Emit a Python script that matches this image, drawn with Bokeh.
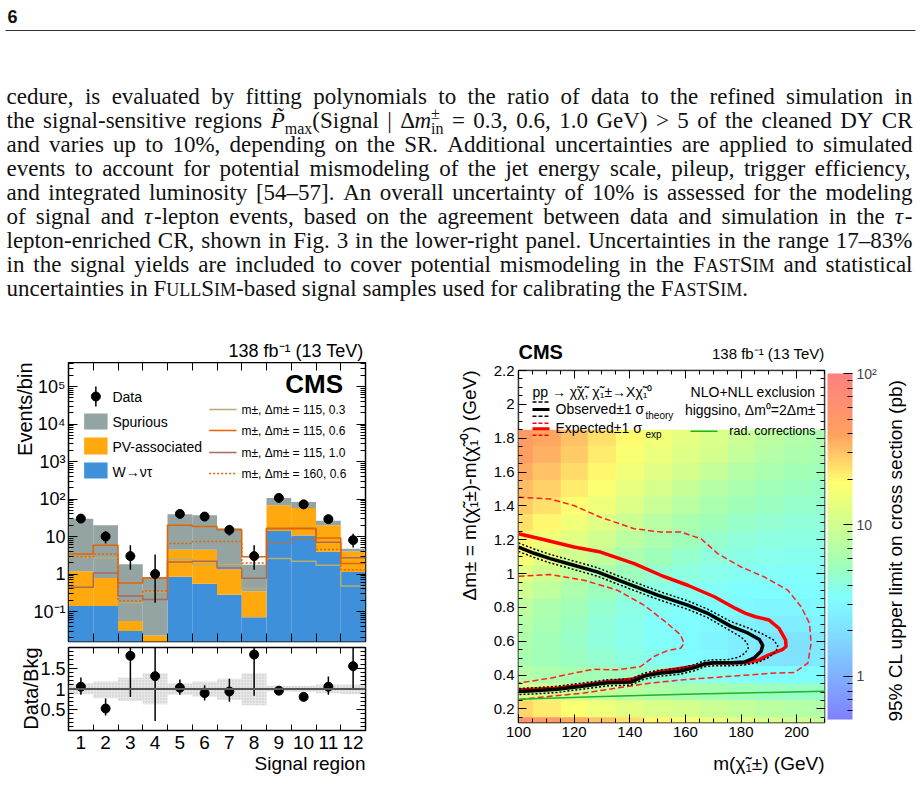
import re
import math
import numpy as np
from bokeh.plotting import figure
from bokeh.models import (Range1d, LinearAxis, LogAxis, FixedTicker, SingleIntervalTicker,
                          CustomJSTickFormatter, Label, Span, BoxAnnotation, ColorBar,
                          LogColorMapper, ColumnDataSource)
from bokeh.layouts import column, row
from bokeh.embed import file_html
from bokeh.resources import INLINE
from bokeh.core.properties import value

SANS = "Liberation Sans"
SERIF = "Liberation Serif"

# ---------------- page text ----------------
page_number = "6"
paragraph_lines = [
    "cedure, is evaluated by fitting polynomials to the ratio of data to the refined simulation in",
    "the signal-sensitive regions {i:P\u0303}{sub:max}(Signal | \u0394{i:m}{supz:\u00b1}{sub:in} = 0.3, 0.6, 1.0 GeV) > 5 of the cleaned DY CR",
    "and varies up to 10%, depending on the SR. Additional uncertainties are applied to simulated",
    "events to account for potential mismodeling of the jet energy scale, pileup, trigger efficiency,",
    "and integrated luminosity [54\u201357]. An overall uncertainty of 10% is assessed for the modeling",
    "of signal and {i:\u03c4}-lepton events, based on the agreement between data and simulation in the {i:\u03c4}-",
    "lepton-enriched CR, shown in Fig. 3 in the lower-right panel. Uncertainties in the range 17\u201383%",
    "in the signal yields are included to cover potential mismodeling in the F{sc:AST}S{sc:IM} and statistical",
    "uncertainties in F{sc:ULL}S{sc:IM}-based signal samples used for calibrating the F{sc:AST}S{sc:IM}.",
]
lumi_text = "138 fb\u207b\u00b9 (13 TeV)"
cms_text = "CMS"
colorbar_title = "95% CL upper limit on cross section (pb)"

# ---------------- left: yields per signal region ----------------
regions = [1, 2, 3, 4, 5, 6, 7, 8, 9, 10, 11, 12]
region_labels = [str(r) for r in regions]
bkg_wtau = [0.14, 0.14, 0.030, 0.004, 0.85, 0.55, 0.28, 0.070, 14.0, 10.7, 3.9, 1.13]
bkg_pv = [1.04, 0.64, 0.026, 0.019, 3.6, 3.9, 1.02, 0.275, 54.0, 46.8, 16.0, 2.87]
bkg_spurious = [28.6, 19.1, 1.75, 0.81, 34.5, 32.5, 15.2, 1.43, 38.0, 25.5, 6.5, 0.7]
sig_115_03 = [2.8, 2.67, 0.17, 0.33, 2.46, 1.8, 1.8, 0.41, 2.6, 2.2, 1.7, 0.48]
sig_115_06 = [3.4, 5.8, 0.575, 0.78, 19.9, 18.6, 15.1, 2.9, 16.5, 16.0, 9.1, 1.9]
sig_115_10 = [0.44, 1.06, 0.26, 0.21, 2.09, 2.2, 1.45, 0.77, 16.0, 16.5, 7.0, 2.7]
sig_160_06 = [2.9, 3.4, 0.19, 0.35, 6.5, 7.4, 7.4, 1.97, 6.7, 8.4, 4.5, 1.3]
data_obs = [30, 10, 3, 1, 40, 34, 15, 3, 107, 72, 29, 8]
data_err_lo = [24.5, 6.5, 1.3, 0.17, 34, 28, 10.7, 1.3, 97, 64, 23.4, 5.1]
data_err_hi = [35.5, 13.8, 5.8, 3.3, 46, 40, 19.9, 5.8, 117, 80, 36.6, 11.9]

ratio = [1.055, 0.53, 1.8, 1.31, 1.03, 0.90, 0.94, 1.83, 0.96, 0.81, 1.055, 1.55]
ratio_lo = [0.86, 0.36, 0.81, 0.23, 0.86, 0.72, 0.69, 0.84, 0.86, 0.71, 0.86, 1.0]
ratio_hi = [1.28, 0.77, 2.6, 2.6, 1.23, 1.09, 1.25, 2.6, 1.07, 0.90, 1.30, 2.4]
band_lo = [0.88, 0.78, 0.71, 0.63, 0.86, 0.82, 0.74, 0.61, 0.94, 0.93, 0.90, 0.88]
band_hi = [1.13, 1.18, 1.27, 1.38, 1.13, 1.18, 1.25, 1.38, 1.08, 1.08, 1.11, 1.11]

# ---------------- right: exclusion limits ----------------
heat_x = [100, 110, 120, 130, 140, 150, 160, 170, 180, 190, 200, 210]
heat_y = [0.1, 0.2, 0.3, 0.4, 0.5, 0.6, 0.7, 0.8, 0.9, 1.0, 1.1, 1.2, 1.3, 1.4, 1.5, 1.6, 1.7, 1.8]
heat_vals = [
    [60, 48, 38, 30, 24, 20, 17, 14.5, 12.5, 11, 10, 9.2],
    [26, 22, 18, 15, 13, 11.5, 10.5, 9.5, 8.5, 7.8, 7.2, 6.8],
    [11, 10, 9, 8.2, 7.5, 6.8, 6.2, 5.8, 5.4, 5.0, 4.8, 4.8],
    [7, 6.5, 6, 5.5, 5, 4.5, 4, 3.8, 3.5, 3.2, 3.2, 3.3],
    [6, 5.5, 5, 4.5, 4, 3.6, 3.2, 3, 2.6, 2.2, 2.1, 2.4],
    [6.5, 5.5, 4.8, 4.2, 3.8, 3.4, 3.1, 2.8, 2.5, 2.2, 2.1, 2.4],
    [7, 6, 5, 4.3, 3.8, 3.4, 3.2, 3, 2.7, 2.5, 2.5, 2.8],
    [8, 6.5, 5.5, 4.6, 4, 3.6, 3.4, 3.2, 3, 2.9, 2.9, 3.1],
    [10, 8, 6.5, 5.2, 4.5, 4, 3.7, 3.5, 3.3, 3.2, 3.2, 3.3],
    [13, 10, 8, 6.5, 5.2, 4.5, 4.1, 3.8, 3.6, 3.5, 3.4, 3.5],
    [17, 13, 10, 8, 6.3, 5.3, 4.6, 4.2, 3.9, 3.8, 3.7, 3.7],
    [20, 16, 13, 10, 7.8, 6.3, 5.3, 4.7, 4.3, 4.1, 4, 4],
    [24, 20, 16, 12.5, 9.5, 7.5, 6.2, 5.3, 4.8, 4.5, 4.3, 4.3],
    [28, 24, 19, 15, 12, 9.2, 7.4, 6.2, 5.4, 5, 4.7, 4.6],
    [32, 27, 22, 18, 14, 11, 8.8, 7.2, 6.2, 5.5, 5.1, 4.9],
    [36, 30, 25, 20, 16, 13, 10.5, 8.5, 7, 6.2, 5.6, 5.3],
    [42, 35, 28, 22, 18, 15, 12.5, 10.5, 8.5, 7.2, 6.4, 6.0],
    [46, 38, 31, 24, 19.5, 16, 13.5, 11.2, 9.2, 7.8, 6.8, 6.3],
]
obs_x = [100, 105.6, 111.4, 119.9, 128.3, 139.2, 150.0, 160.8, 168.0, 176.4, 182.4, 186.6, 187.8, 187.2,
         184.8, 181.2, 176.4, 170.4, 166.8, 163.2, 158.4, 150.0, 145.2, 140.4, 132.0, 123.6, 114.0, 105.6, 100]
obs_y = [1.156, 1.12, 1.088, 1.049, 1.010, 0.940, 0.873, 0.814, 0.765, 0.688, 0.649, 0.610, 0.576, 0.541,
         0.502, 0.477, 0.473, 0.473, 0.467, 0.444, 0.424, 0.410, 0.394, 0.359, 0.355, 0.336, 0.316, 0.307, 0.303]
obs_up_x = [100, 105.6, 111.4, 119.9, 128.3, 139.2, 150.0, 160.8, 168.0, 176.4, 182.4, 187.5, 191.5, 193.2, 192.6,
            190.0, 186.0, 181.2, 176.4, 170.4, 166.8, 163.2, 158.4, 150.0, 145.2, 140.4, 132.0, 123.6, 114.0, 105.6, 100]
obs_up_y = [1.181, 1.145, 1.113, 1.074, 1.035, 0.965, 0.898, 0.839, 0.790, 0.716, 0.680, 0.645, 0.610, 0.575, 0.540,
            0.505, 0.475, 0.460, 0.456, 0.456, 0.449, 0.426, 0.406, 0.392, 0.376, 0.341, 0.337, 0.318, 0.298, 0.289, 0.285]
obs_dn_x = [100, 105.6, 111.4, 119.9, 128.3, 139.2, 150.0, 160.8, 168.0, 176.4, 180.0, 182.2, 182.6, 181.5,
            179.0, 175.0, 170.4, 166.8, 163.2, 158.4, 150.0, 145.2, 140.4, 132.0, 123.6, 114.0, 105.6, 100]
obs_dn_y = [1.131, 1.095, 1.063, 1.024, 0.985, 0.915, 0.848, 0.789, 0.740, 0.660, 0.625, 0.590, 0.560, 0.530,
            0.505, 0.491, 0.491, 0.485, 0.462, 0.442, 0.428, 0.412, 0.377, 0.373, 0.354, 0.334, 0.325, 0.321]
exp_x = [100, 107.8, 119.9, 129.5, 141.6, 151.2, 160.8, 170.4, 178.0, 181.6, 185.2, 190.0, 193.6, 196.0, 196.2,
         194.8, 190.0, 186.4, 182.0, 176.4, 170.4, 163.2, 150.0, 140.4, 132.0, 123.6, 114.0, 100]
exp_y = [1.235, 1.206, 1.157, 1.127, 1.059, 0.990, 0.931, 0.863, 0.794, 0.765, 0.745, 0.726, 0.677, 0.608, 0.569,
         0.550, 0.520, 0.490, 0.474, 0.471, 0.473, 0.453, 0.418, 0.375, 0.361, 0.341, 0.322, 0.312]
exp_up_x = [100, 111.4, 119.9, 129.5, 141.6, 151.2, 158.4, 165.6, 171.6, 180.0, 188.4, 196.8, 201.6, 204.6, 205.2,
            204.0, 199.2, 189.6, 183.6, 171.6, 159.5, 147.5, 135.5, 123.5, 111.4, 100]
exp_up_y = [1.451, 1.441, 1.402, 1.333, 1.265, 1.245, 1.245, 1.206, 1.118, 1.039, 0.980, 0.902, 0.804, 0.706, 0.588,
            0.471, 0.416, 0.410, 0.402, 0.388, 0.373, 0.353, 0.324, 0.294, 0.275, 0.255]
exp_dn_x = [100, 111.4, 123.5, 135.5, 145.1, 153.5, 158.3, 159.5, 158.3, 153.5, 148.7, 143.9, 135.5, 127.1, 119.9, 111.4, 100]
exp_dn_y = [0.984, 0.994, 0.961, 0.902, 0.814, 0.706, 0.637, 0.588, 0.559, 0.545, 0.510, 0.451, 0.431, 0.435, 0.412, 0.382, 0.353]
rad_x = [100, 130, 160, 190, 210]
rad_y = [0.258, 0.274, 0.287, 0.298, 0.305]

# ---------------- colours ----------------
C_WTAU, C_PV, C_SPUR = "#3f90da", "#ffa90e", "#94a4a2"
C_TAN, C_ORANGE, C_BROWN = "#b9ac70", "#e76300", "#a96b59"

BLANK = CustomJSTickFormatter(code="return '';")
DEC = CustomJSTickFormatter(code="return String(Math.round(tick * 10) / 10);")
LOGFMT = CustomJSTickFormatter(code="""
const e = Math.round(Math.log10(tick));
const sup = {"-1": "\u207b\u00b9", "2": "\u00b2", "3": "\u00b3", "4": "\u2074", "5": "\u2075"};
if (e === 0) return "1";
if (e === 1) return "10";
return "10" + sup[String(e)];
""")


def mid(baseline, size, k=0.3465):
    """vertical centre of the text box for a given alphabetic baseline"""
    return baseline - k * size


def try_set(obj, name, *vals):
    if name in obj.properties():
        for v in vals:
            try:
                setattr(obj, name, v)
                return True
            except Exception:
                pass
    return False


def style_axis(ax, major_in, minor_in, size=None, standoff=4):
    ax.axis_line_color = None
    ax.major_tick_in = major_in
    ax.major_tick_out = 0
    ax.minor_tick_in = minor_in
    ax.minor_tick_out = 0
    ax.major_tick_line_color = "black"
    ax.minor_tick_line_color = "black"
    ax.major_label_standoff = standoff
    if size:
        ax.major_label_text_font_size = f"{size}px"
        ax.major_label_text_font = SANS
        ax.major_label_text_color = "black"


def axis_title(ax, text, size, standoff, align=None, orientation=None, text_align=None, baseline=None):
    ax.axis_label = text
    ax.axis_label_text_font = SANS
    ax.axis_label_text_font_size = f"{size}px"
    ax.axis_label_text_font_style = "normal"
    ax.axis_label_text_color = "black"
    ax.axis_label_standoff = standoff
    if align is not None:
        try_set(ax, "axis_label_align", align)
    if orientation is not None:
        try_set(ax, "axis_label_orientation", orientation)
    if text_align is not None:
        ax.axis_label_text_align = text_align
    if baseline is not None:
        ax.axis_label_text_baseline = baseline


def add_label(fig, x, y, text, size, align="left", baseline="middle", angle=0.0,
              style="normal", font=SANS, color="black"):
    fig.add_layout(Label(x=x, y=y, text=text, text_font=font, text_font_size=f"{size}px",
                         text_align=align, text_baseline=baseline, angle=angle,
                         text_font_style=style, text_color=color))


def blank_fig(width, height, x_range=None, y_range=None):
    f = figure(width=width, height=height, x_range=x_range if x_range is not None else Range1d(0, width),
               y_range=y_range if y_range is not None else Range1d(height, 0),
               toolbar_location=None, output_backend="svg", min_border=0,
               x_axis_location=None, y_axis_location=None, outline_line_color=None)
    f.xgrid.visible = False
    f.ygrid.visible = False
    return f


# ================= header with paragraph =================
TIMES_W = {}
for chars, w in [(" ,.", 250), ("ijlt:;/", 278), ("fr()[]-I", 333), ("sJ", 389), ("acez?", 444),
                 ("bdghknopquvxy0123456789\u2013", 500), ("FPS", 556), ("+=<>\u00b1", 564), ("ETLZ", 611),
                 ("\u0394", 612), ("BCR", 667), ("ADGHKNOQUVXYw", 722), ("m&", 778), ("%", 833),
                 ("M", 889), ("W", 944), ("|", 200), ("\u03c4", 439), ("\u0303", 0)]:
    for ch in chars:
        TIMES_W[ch] = w
TIMES_I = {"P": 611, "m": 722}
STY = {"n": (23, "normal", 0, True), "i": (23, "italic", 0, True), "sub": (16, "normal", 5, True),
       "supz": (16, "normal", -10, False), "sc": (18, "normal", 0, True)}
seg_re = re.compile(r"\{(\w+):([^}]*)\}")


def parse_word(w):
    segs, pos = [], 0
    for m in seg_re.finditer(w):
        if m.start() > pos:
            segs.append((w[pos:m.start()], "n"))
        segs.append((m.group(2), m.group(1)))
        pos = m.end()
    if pos < len(w):
        segs.append((w[pos:], "n"))
    return segs


def seg_width(s, st):
    size = STY[st][0]
    tot = 0
    for ch in s:
        wdt = TIMES_W.get(ch, 500)
        if st == "i":
            wdt = TIMES_I.get(ch, wdt)
        tot += wdt
    return tot / 1000.0 * size


X0, X1, BASE0, LEAD = 6, 912, 104, 24
tx, ty, tt, ts, tf = [], [], [], [], []
for li, line in enumerate(paragraph_lines):
    words = [parse_word(w) for w in line.split(" ")]
    wwid = [sum(seg_width(s, st) for s, st in segs if STY[st][3]) for segs in words]
    last = li == len(paragraph_lines) - 1
    gap = 0.25 * STY["n"][0] if last else max(3.0, (X1 - X0 - sum(wwid)) / (len(words) - 1))
    x = X0
    yb = BASE0 + LEAD * li
    for segs, ww in zip(words, wwid):
        cx = x
        for s, st in segs:
            size, fst, dy, adv = STY[st]
            tx.append(cx); ty.append(mid(yb + dy, size, 0.3375)); tt.append(s)
            ts.append(f"{size}px"); tf.append(fst)
            if adv:
                cx += seg_width(s, st)
        x += ww + gap

HDR_H = 330
hdr = blank_fig(920, HDR_H)
hdr.text(x=[7], y=[mid(22, 18)], text=[page_number], text_font=value(SANS), text_font_style="bold",
         text_font_size="18px", text_baseline="middle", text_color="#111111")
hdr.line(x=[5, 915], y=[30, 30], line_color="#333333", line_width=1)
src = ColumnDataSource(dict(x=tx, y=ty, text=tt, size=ts, fstyle=tf))
hdr.text(x="x", y="y", text="text", source=src, text_font=value(SERIF), text_font_size="size",
         text_font_style="fstyle", text_baseline="middle", text_align="left", text_color="#111111")

# ================= left main panel =================
edges = [r - 0.5 for r in regions] + [regions[-1] + 0.5]
inner_edges = edges[1:-1]
MAIN_TOP = 362
RIGHT_TOP = 370
RIGHT_STRIP = 32
LOG_TOP = 5.64
DEC_PX = 37.5


def mx(px):
    return 0.5 + (px - 61) / (304 / 12.0)


def my(py):
    return 10 ** (LOG_TOP - (py - MAIN_TOP) / DEC_PX)


x_left = Range1d(edges[0], edges[-1])

# strip above the left frame (frames of a column are aligned by bokeh)
left_hdr = blank_fig(440, MAIN_TOP - HDR_H, x_range=x_left)
left_hdr.text(x=[mx(363)], y=[mid(357, 18) - HDR_H], text=[lumi_text], text_font=value(SANS),
              text_font_size="18px", text_align="right", text_baseline="middle", text_color="black")

main_h = 641 - MAIN_TOP + 2
main = figure(width=440, height=main_h, x_range=x_left,
              y_range=Range1d(my(641), my(MAIN_TOP)),
              y_axis_type="log", toolbar_location=None, output_backend="svg",
              min_border_left=61, min_border_right=75, min_border_top=0, min_border_bottom=2,
              x_axis_location=None, outline_line_color="black", outline_line_width=1.5)
main.grid.visible = False
log_major = [10.0 ** k for k in range(-1, 6)]
log_minor = [m * 10.0 ** k for k in range(-2, 6) for m in range(2, 10)]
ya = main.yaxis[0]
ya.ticker = FixedTicker(ticks=log_major, minor_ticks=log_minor)
ya.formatter = LOGFMT
style_axis(ya, 9, 5, size=18, standoff=3)
axis_title(ya, "Events/bin", 20, 5, align="end", orientation=math.pi / 2, text_align="right", baseline="bottom")
ra = LogAxis(ticker=FixedTicker(ticks=log_major, minor_ticks=log_minor), formatter=BLANK)
style_axis(ra, 9, 5, standoff=0)
main.add_layout(ra, "right")
for loc in ("above", "below"):
    ax = LinearAxis(ticker=FixedTicker(ticks=[], minor_ticks=inner_edges))
    style_axis(ax, 0, 8, standoff=0)
    main.add_layout(ax, loc)

w = np.array(bkg_wtau)
pv = np.array(bkg_pv)
sp = np.array(bkg_spurious)
floor = 1e-3
main.quad(left=edges[:-1], right=edges[1:], bottom=floor, top=w, fill_color=C_WTAU, line_color=None)
main.quad(left=edges[:-1], right=edges[1:], bottom=w, top=w + pv, fill_color=C_PV, line_color=None)
main.quad(left=edges[:-1], right=edges[1:], bottom=w + pv, top=w + pv + sp, fill_color=C_SPUR, line_color=None)


def step_path(vals):
    return list(np.repeat(edges, 2)[1:-1]), list(np.repeat(vals, 2))


for vals, col, dash in [(sig_115_03, C_TAN, "solid"), (sig_115_10, C_BROWN, "solid"),
                        (sig_115_06, C_ORANGE, "solid"), (sig_160_06, C_ORANGE, "2 2")]:
    sx, sy = step_path(vals)
    main.line(sx, sy, line_color=col, line_width=1.5, line_dash=dash)

main.segment(x0=regions, x1=regions, y0=data_err_lo, y1=data_err_hi, line_color="black", line_width=1.5)
main.scatter(regions, data_obs, size=9, color="black")

# legend (left)
main.scatter([mx(89)], [my(396)], size=9, color="black")
main.segment(x0=[mx(89)], x1=[mx(89)], y0=[my(386)], y1=[my(406)], line_color="black", line_width=1.5)
add_label(main, mx(106), my(396), "Data", 14)
for top, bot, col, txt, yc in [(413, 429, C_SPUR, "Spurious", 421), (437, 454, C_PV, "PV-associated", 446),
                               (462, 478, C_WTAU, "W\u2192\u03bd\u03c4", 471)]:
    main.quad(left=[mx(77)], right=[mx(101)], top=[my(top)], bottom=[my(bot)], fill_color=col, line_color=None)
    add_label(main, mx(106), my(yc), txt, 14)
for yc, col, dash, txt in [(409, C_TAN, "solid", "m\u00b1, \u0394m\u00b1 = 115, 0.3"),
                           (430, C_ORANGE, "solid", "m\u00b1, \u0394m\u00b1 = 115, 0.6"),
                           (452, C_BROWN, "solid", "m\u00b1, \u0394m\u00b1 = 115, 1.0"),
                           (473, C_ORANGE, "2 2", "m\u00b1, \u0394m\u00b1 = 160, 0.6")]:
    main.line([mx(205), mx(233)], [my(yc), my(yc)], line_color=col, line_width=1.5, line_dash=dash)
    add_label(main, mx(238), my(yc), txt, 12)
add_label(main, mx(342), my(mid(393, 26)), cms_text, 26, align="right", baseline="middle", style="bold")

# ================= ratio panel =================
rat = figure(width=440, height=144, x_range=x_left, y_range=Range1d(0, 2),
             toolbar_location=None, output_backend="svg",
             min_border_left=61, min_border_right=75, min_border_top=4, min_border_bottom=53,
             x_axis_location=None, outline_line_color="black", outline_line_width=1.5)
rat.grid.visible = False
r_major = [0.5, 1.0, 1.5]
r_minor = [round(0.1 * k, 1) for k in range(1, 20)]
ry_ax = rat.yaxis[0]
ry_ax.ticker = FixedTicker(ticks=r_major, minor_ticks=r_minor)
ry_ax.formatter = DEC
style_axis(ry_ax, 9, 5, size=18, standoff=3)
axis_title(ry_ax, "Data/Bkg", 20, 6, align="end", orientation=math.pi / 2, text_align="right", baseline="bottom")
ry2 = LinearAxis(ticker=FixedTicker(ticks=r_major, minor_ticks=r_minor), formatter=BLANK)
style_axis(ry2, 9, 5, standoff=0)
rat.add_layout(ry2, "right")
top_ax = LinearAxis(ticker=FixedTicker(ticks=[], minor_ticks=inner_edges))
style_axis(top_ax, 0, 6, standoff=0)
rat.add_layout(top_ax, "above")
bot_ax = LinearAxis(ticker=FixedTicker(ticks=regions, minor_ticks=inner_edges),
                    major_label_overrides={r: l for r, l in zip(regions, region_labels)})
style_axis(bot_ax, 0, 6, size=19, standoff=5)
axis_title(bot_ax, "Signal region", 19, 12, align="end", orientation=0.0, text_align="right", baseline="top")
rat.add_layout(bot_ax, "below")

rat.quad(left=edges[:-1], right=edges[1:], bottom=band_lo, top=band_hi, fill_color="#d4d4d4",
         fill_alpha=0.55, line_color=None, hatch_pattern="dot", hatch_color="#9a9a9a",
         hatch_alpha=0.5, hatch_scale=3)
rat.add_layout(Span(location=1.0, dimension="width", line_color="#555555", line_width=2))
rat.segment(x0=regions, x1=regions, y0=ratio_lo, y1=ratio_hi, line_color="black", line_width=1.5)
rat.scatter(regions, ratio, size=9, color="black")

# ================= right panel =================
XR0, XR1, YR0, YR1 = 100, 210, 0.12, 2.2
RIGHT_W = 444          # 440 .. 884
CBT_W = 920 - 440 - RIGHT_W


def rx(px):
    return XR0 + (px - 518) * (XR1 - XR0) / 306.0


def rry(py):
    return YR1 - (py - RIGHT_TOP) * (YR1 - YR0) / 353.0


x_right = Range1d(XR0, XR1)
right_hdr = blank_fig(RIGHT_W, RIGHT_STRIP, x_range=x_right)
right_hdr.text(x=[rx(518)], y=[mid(358, 20) - HDR_H], text=[cms_text], text_font=value(SANS),
               text_font_size="20px", text_font_style="bold", text_align="left", text_baseline="middle",
               text_color="black")
right_hdr.text(x=[rx(824)], y=[mid(358, 15) - HDR_H], text=[lumi_text], text_font=value(SANS),
               text_font_size="15px", text_align="right", text_baseline="middle", text_color="black")

rp_top_border = RIGHT_TOP - HDR_H - RIGHT_STRIP
rp = figure(width=RIGHT_W, height=787 - HDR_H - RIGHT_STRIP, x_range=x_right, y_range=Range1d(YR0, YR1),
            toolbar_location=None, output_backend="svg",
            min_border_left=78, min_border_right=RIGHT_W - 78 - 306, min_border_top=rp_top_border,
            min_border_bottom=64,
            x_axis_location=None, y_axis_location=None, outline_line_color="black", outline_line_width=1.5)
rp.grid.visible = False

cb_t = [0.0, 0.124, 0.256, 0.351, 0.445, 0.562, 0.684, 0.825, 1.0]
cb_rgb = [(128, 128, 255), (128, 176, 255), (128, 224, 255), (128, 255, 255), (160, 255, 184),
          (208, 255, 144), (255, 255, 112), (255, 160, 96), (255, 128, 128)]
palette = []
for i in range(256):
    t = i / 255.0
    rgb = [int(round(np.interp(t, cb_t, [c[k] for c in cb_rgb]))) for k in range(3)]
    palette.append("#%02x%02x%02x" % tuple(rgb))
mapper = LogColorMapper(palette=palette, low=0.52, high=100)

dx = heat_x[1] - heat_x[0]
dy = heat_y[1] - heat_y[0]
rp.image(image=[np.array(heat_vals, dtype=float)], x=heat_x[0] - dx / 2, y=heat_y[0] - dy / 2,
         dw=dx * len(heat_x), dh=dy * len(heat_y), color_mapper=mapper)

rp.line(exp_up_x, exp_up_y, line_color="#ff2020", line_width=1.5, line_dash="6 3")
rp.line(exp_dn_x, exp_dn_y, line_color="#ff2020", line_width=1.5, line_dash="6 3")
rp.line(rad_x, rad_y, line_color="#1fb31f", line_width=1.5)
rp.line(exp_x, exp_y, line_color="#ff0000", line_width=3.5)
rp.line(obs_up_x, obs_up_y, line_color="black", line_width=1.5, line_dash="2 2")
rp.line(obs_dn_x, obs_dn_y, line_color="black", line_width=1.5, line_dash="2 2")
rp.line(obs_x, obs_y, line_color="black", line_width=3.5)

rp.add_layout(BoxAnnotation(left=XR0, right=XR1, bottom=rry(442), top=YR1, fill_color="white", fill_alpha=1,
                            line_color="black", line_width=2, level="underlay"))

xb = LinearAxis(ticker=SingleIntervalTicker(interval=20, num_minor_ticks=4))
style_axis(xb, 8, 4, size=15, standoff=4)
axis_title(xb, "m(\u03c7\u0303\u2081\u00b1) (GeV)", 19, 24, align="end", orientation=0.0, text_align="right", baseline="top")
rp.add_layout(xb, "below")
xt = LinearAxis(ticker=SingleIntervalTicker(interval=20, num_minor_ticks=4), formatter=BLANK)
style_axis(xt, 8, 4, standoff=0)
xt.major_label_text_font_size = "1px"
rp.add_layout(xt, "above")
yl = LinearAxis(ticker=SingleIntervalTicker(interval=0.2, num_minor_ticks=4), formatter=DEC)
style_axis(yl, 8, 4, size=15, standoff=4)
axis_title(yl, "\u0394m\u00b1 = m(\u03c7\u0303\u2081\u00b1)-m(\u03c7\u0303\u2081\u2070) (GeV)", 19, 21,
           align="end", orientation=math.pi / 2, text_align="right", baseline="bottom")
rp.add_layout(yl, "left")
yr = LinearAxis(ticker=SingleIntervalTicker(interval=0.2, num_minor_ticks=4), formatter=BLANK)
style_axis(yr, 8, 4, standoff=0)
rp.add_layout(yr, "right")

cb = ColorBar(color_mapper=mapper, width=25, padding=3, margin=0,
              ticker=FixedTicker(ticks=[1, 10, 100], minor_ticks=[0.6, 0.7, 0.8, 0.9] + [m * 10.0 ** k for k in range(0, 2) for m in range(2, 10)]),
              formatter=CustomJSTickFormatter(code="if (tick >= 99) return '10\u00b2'; return String(Math.round(tick));"),
              major_label_text_font_size="14px", major_label_text_font=SANS, label_standoff=4,
              major_tick_in=9, major_tick_line_color="black", minor_tick_in=5, minor_tick_line_color="black",
              bar_line_color=None, background_fill_alpha=0)
rp.add_layout(cb, "right")

# legend box contents
for py, dash, wdt in [(401.7, "4 2", 1.5), (409, "solid", 3), (416, "4 2", 1.5)]:
    rp.line([rx(532), rx(549)], [rry(py), rry(py)], line_color="black", line_width=wdt, line_dash=dash)
for py, dash, wdt in [(423, "4 2", 1.5), (428.5, "solid", 3), (435, "4 2", 1.5)]:
    rp.line([rx(532), rx(549)], [rry(py), rry(py)], line_color="#ff0000", line_width=wdt, line_dash=dash)
rp.line([rx(690), rx(717)], [rry(431), rry(431)], line_color="#1fb31f", line_width=1.5)

add_label(rp, rx(532), rry(392), "pp \u2192 \u03c7\u0303\u03c7\u0303, \u03c7\u0303\u2081\u00b1\u2192X\u03c7\u0303\u2081\u2070", 14)
add_label(rp, rx(555), rry(409), "Observed\u00b11 \u03c3", 14)
add_label(rp, rx(645), rry(415), "theory", 10)
add_label(rp, rx(555), rry(428), "Expected\u00b11 \u03c3", 14)
add_label(rp, rx(645), rry(434), "exp", 10)
add_label(rp, rx(815), rry(392), "NLO+NLL exclusion", 14, align="right")
add_label(rp, rx(815), rry(410), "higgsino, \u0394m\u2070=2\u0394m\u00b1", 14, align="right")
add_label(rp, rx(815), rry(431), "rad. corrections", 12.5, align="right")

# strip at the far right holding the colour-bar title (page coordinates, y upward)
cbt = blank_fig(CBT_W, 787 - HDR_H, x_range=Range1d(920 - CBT_W, 920), y_range=Range1d(-787, -HDR_H))
cbt.text(x=[895], y=[-550], text=[colorbar_title], angle=math.pi / 2, text_font=value(SANS),
         text_font_size="19px", text_align="center", text_baseline="middle", text_color="black")

layout = column(hdr, row(column(left_hdr, main, rat), column(right_hdr, rp), column(cbt)))
open("out.html", "w").write(file_html(layout, INLINE, title="CMS figure page"))
